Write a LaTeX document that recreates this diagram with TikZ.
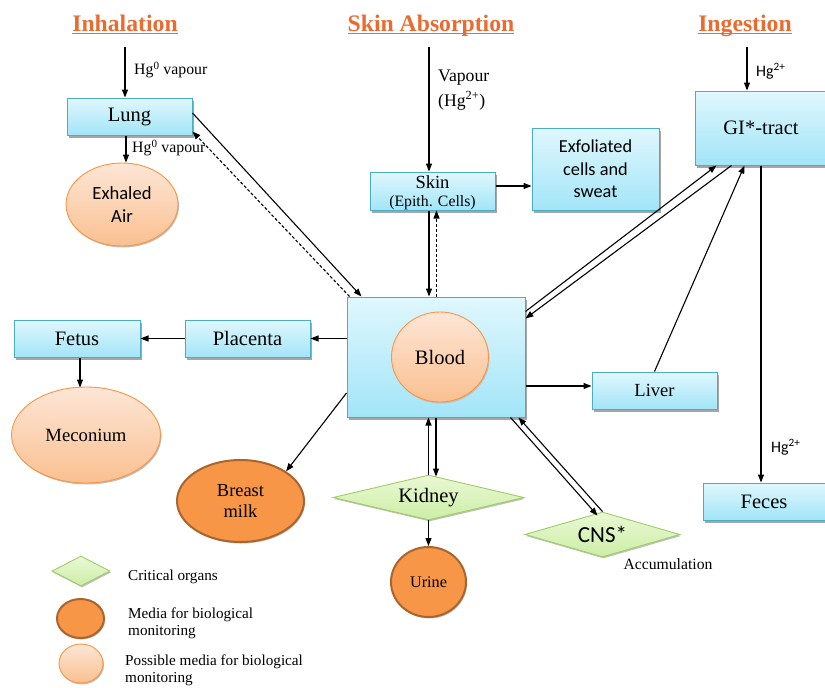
\documentclass[tikz,border=0pt]{standalone}
\usepackage{fontspec}
\setmainfont{Liberation Serif}
\newfontfamily\calibri{Carlito}
\usetikzlibrary{shapes.geometric,shadows,arrows.meta}
\definecolor{boxtop}{RGB}{224,247,253}
\definecolor{boxbot}{RGB}{162,229,248}
\definecolor{boxline}{RGB}{75,172,198}
\definecolor{elltop}{RGB}{253,230,214}
\definecolor{ellbot}{RGB}{250,192,144}
\definecolor{ellline}{RGB}{247,150,70}
\definecolor{darkfill}{RGB}{246,150,70}
\definecolor{darkline}{RGB}{170,100,45}
\definecolor{dtop}{RGB}{234,248,212}
\definecolor{dbot}{RGB}{204,238,166}
\definecolor{dline}{RGB}{160,205,100}
\definecolor{titlec}{RGB}{232,108,50}
\newcommand{\fs}[1]{\fontsize{#1}{#1}\selectfont}
\newcommand{\tul}[1]{\leavevmode\setbox0\hbox{#1}\rlap{\rule[-3pt]{\wd0}{1.4pt}}\box0}
\tikzset{
  shad/.style={drop shadow={shadow xshift=1.5pt,shadow yshift=-2.5pt,fill=black!35,opacity=1}},
  box/.style={rectangle,draw=boxline,line width=1pt,top color=boxtop,bottom color=boxbot,shad,inner sep=0pt,align=center,font=\fs{20.5}},
  lell/.style={ellipse,draw=ellline,line width=0.9pt,top color=elltop,bottom color=ellbot,inner sep=0pt,align=center,drop shadow={shadow xshift=1pt,shadow yshift=-1.5pt,fill=black!25,opacity=1}},
  dell/.style={ellipse,draw=darkline,line width=2pt,fill=darkfill,inner sep=0pt,align=center,drop shadow={shadow xshift=1pt,shadow yshift=-1.5pt,fill=black!25,opacity=1}},
  organ/.style={diamond,draw=dline,line width=0.9pt,top color=dtop,bottom color=dbot,inner sep=0pt,align=center,drop shadow={shadow xshift=1pt,shadow yshift=-1.5pt,fill=black!25,opacity=1}},
  title/.style={text=titlec,font=\bfseries\fs{23.7}},
  lbl/.style={inner sep=0pt,align=left},
  arr/.style={-{Triangle[length=8pt,width=6pt]},line width=1.1pt},
  darr/.style={arr,dashed,dash pattern=on 3pt off 2pt},
  plain/.style={line width=1.1pt}
}
\begin{document}
\begin{tikzpicture}[x=1pt,y=-1pt]
\useasboundingbox (0,0) rectangle (825,688);
% titles
\node[title,anchor=base] (tinh) at (125,31) {\tul{Inhalation}};
\node[title,anchor=base] (tskin) at (431,31) {\tul{Skin Absorption}};
\node[title,anchor=base] (ting) at (745,31) {\tul{Ingestion}};
\coordinate (inhsrc) at (125,47);
\coordinate (skinsrc) at (429,47);
\coordinate (ingsrc) at (747,47);
% boxes
\node[box,minimum width=125pt,minimum height=37pt] (lung) at (129.5,116.5) {Lung};
\node[box,minimum width=125pt,minimum height=38pt,font=\fs{18.5},text depth=0pt] (skin) at (432.5,191) {Skin\\[-1pt]{\fs{15.8}(Epith. Cells)}};
\node[box,minimum width=127pt,minimum height=82pt,font=\calibri\fs{18.3},align=center] (exf) at (595.5,169) {Exfoliated\\[4pt]cells and\\[4pt]sweat};
\node[box,minimum width=132pt,minimum height=74pt] (gi) at (761,128) {GI*-tract};
\node[box,minimum width=178pt,minimum height=120pt] (blood) at (436,357) {};
\node[lell,minimum width=97pt,minimum height=90pt,font=\fs{20.5}] (bloodc) at (440,357) {Blood};
\node[box,minimum width=125pt,minimum height=37pt,font=\fs{18.5}] (liver) at (654.5,390.5) {Liver};
\node[box,minimum width=122pt,minimum height=37pt] (feces) at (764,501.5) {Feces};
\node[box,minimum width=125pt,minimum height=37pt] (placenta) at (247.5,338.5) {Placenta};
\node[box,minimum width=126pt,minimum height=37pt] (fetus) at (77,338.5) {Fetus};
% ellipses
\node[lell,minimum width=112pt,minimum height=83pt,font=\calibri\fs{18.6}] (exhaled) at (122,204.5) {Exhaled\\[4pt]Air};
\node[lell,minimum width=149pt,minimum height=96pt,font=\fs{18.7}] (meconium) at (86,435) {Meconium};
\node[dell,minimum width=127pt,minimum height=82pt,font=\fs{18.4}] (breast) at (240.5,501) {Breast\\[3pt]milk};
\node[dell,minimum width=75pt,minimum height=70pt,font=\fs{16.2}] (urine) at (428.5,582) {Urine};
% organs
\node[organ,aspect=4.24,minimum width=191pt,minimum height=45pt,font=\fs{20.5}] (kidney) at (428.5,497.5) {Kidney};
\node[organ,aspect=3.44,minimum width=155pt,minimum height=45pt,font=\calibri\fs{23}] (cns) at (602.5,534.5) {CNS*};
\node[lbl,font=\fs{15.7}] (accum) at (668,564) {Accumulation};
% labels
\node[lbl,anchor=west,font=\fs{15.8}] (l1) at (134,70) {Hg\textsuperscript{0} vapour};
\node[lbl,anchor=west,font=\fs{15.8}] (l2) at (132,148) {Hg\textsuperscript{0} vapour};
\node[lbl,anchor=west,font=\fs{17.7},align=left] (l3) at (438,90) {Vapour\\[5pt](Hg\textsuperscript{2+})};
\node[lbl,anchor=west,font=\calibri\fs{16}] (l4) at (756,71) {Hg\textsuperscript{2+}};
\node[lbl,anchor=west,font=\calibri\fs{16}] (l5) at (771,447) {Hg\textsuperscript{2+}};
% connectors
\draw[arr] (inhsrc) -- (inhsrc |- lung.north);
\draw[arr] ([xshift=-3.5pt]lung.south) -- ([xshift=-3.5pt]lung.south |- exhaled.north);
\draw[arr] (skinsrc) -- (skinsrc |- skin.north);
\draw[arr] (ingsrc) -- (ingsrc |- gi.north);
\draw[arr] ([yshift=5pt]skin.east) -- ([yshift=5pt]skin.east -| exf.west);
\draw[arr] ([yshift=3.5pt]lung.east) -- ([xshift=15pt]blood.north west);
\draw[darr] ([xshift=3pt]blood.north west) -- ([yshift=4pt]lung.south east);
\draw[arr] ([xshift=-3.5pt]skin.south) -- ([xshift=-3.5pt]skin.south |- blood.north);
\draw[darr] ([xshift=4pt]skin.south |- blood.north) -- ([xshift=4pt]skin.south);
\draw[arr] ([yshift=-15pt]blood.north east) -- ([xshift=22pt]gi.south west);
\draw[arr] ([xshift=37pt]gi.south west) -- ([yshift=-22pt]blood.north east);
\draw[arr] (liver.north) -- ([xshift=50pt]gi.south west);
\draw[arr] ([yshift=-29pt]blood.east) -- ([yshift=-29pt]blood.east -| liver.west);
\draw[arr] (gi.south) -- (gi.south |- feces.north);
\draw[arr] (placenta.east -| blood.west) -- (placenta.east);
\draw[arr] (placenta.west) -- (fetus.east);
\draw[arr] ([xshift=3pt]fetus.south) -- ([xshift=3pt,yshift=-1pt]fetus.south |- meconium.north);
\draw[arr] ([yshift=-36pt]blood.west) -- (breast.north east);
\draw[arr] (kidney.north) -- (kidney.north |- blood.south);
\draw[arr] (blood.south) -- ([yshift=-2pt]blood.south |- kidney.north);
\draw[arr] (kidney.south) -- (urine.north);
\draw[arr] ([xshift=-15pt]blood.south east) -- ([xshift=-5pt,yshift=-4pt]cns.north);
\draw[arr] (cns.north) -- ([xshift=-7pt]blood.south east);
% legend
\node[organ,aspect=1.93,minimum width=58pt,minimum height=30pt] (lgd1) at (81,571) {};
\node[dell,minimum width=47pt,minimum height=39pt] (lgd2) at (80.5,618.5) {};
\node[lell,minimum width=44pt,minimum height=39pt] (lgd3) at (81,663.5) {};
\node[lbl,anchor=west,font=\fs{15.2}] (lt1) at (128,577) {Critical organs};
\node[lbl,anchor=west,font=\fs{15.2}] (lt2) at (128,623) {Media for biological\\[2pt]monitoring};
\node[lbl,anchor=west,font=\fs{15.2}] (lt3) at (125,670) {Possible media for biological\\[2pt]monitoring};
\end{tikzpicture}
\end{document}
